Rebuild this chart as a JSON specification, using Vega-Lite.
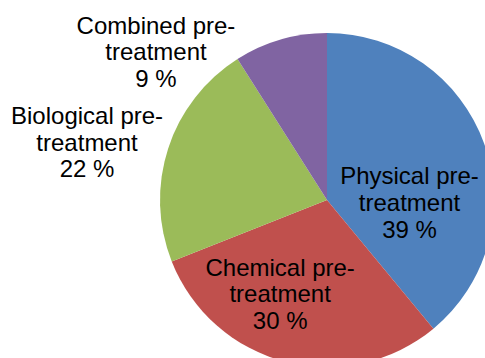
{
  "$schema": "https://vega.github.io/schema/vega-lite/v6.json",
  "width": 316,
  "height": 316,
  "autosize": "none",
  "padding": {"left": 169, "top": 42, "right": 0, "bottom": 0},
  "background": "white",
  "view": {"stroke": null},
  "data": {
    "values": [
      {"cat": "Physical", "order": 1, "value": 39, "label": "Physical pre-\ntreatment\n39 %"},
      {"cat": "Chemical", "order": 2, "value": 30, "label": "Chemical pre-\ntreatment\n30 %"},
      {"cat": "Biological", "order": 3, "value": 22, "label": "Biological pre-\ntreatment\n22 %"},
      {"cat": "Combined", "order": 4, "value": 9, "label": "Combined pre-\ntreatment\n9 %"}
    ]
  },
  "encoding": {
    "theta": {"field": "value", "type": "quantitative", "stack": true},
    "order": {"field": "order", "type": "quantitative"},
    "detail": {"field": "cat", "type": "nominal"}
  },
  "layer": [
    {
      "mark": {"type": "arc", "outerRadius": 167, "strokeWidth": 0},
      "encoding": {
        "color": {
          "field": "cat",
          "type": "nominal",
          "scale": {
            "domain": ["Physical", "Chemical", "Biological", "Combined"],
            "range": ["#4F81BD", "#C0504D", "#9BBB59", "#8064A2"]
          },
          "legend": null
        }
      }
    },
    {
      "mark": {"type": "text", "radius": 76, "dx": 11, "dy": 3, "fontSize": 24, "font": "Liberation Sans", "lineBreak": "\n", "lineHeight": 26.7, "align": "center", "baseline": "middle", "fill": "black"},
      "encoding": {"text": {"condition": {"test": "datum.cat === 'Physical'", "field": "label"}, "value": ""}}
    },
    {
      "mark": {"type": "text", "radius": 104, "dx": -21, "dy": -32, "fontSize": 24, "font": "Liberation Sans", "lineBreak": "\n", "lineHeight": 26.7, "align": "center", "baseline": "middle", "fill": "black"},
      "encoding": {"text": {"condition": {"test": "datum.cat === 'Chemical'", "field": "label"}, "value": ""}}
    },
    {
      "mark": {"type": "text", "radius": 246, "dx": -6, "dy": -7, "fontSize": 24, "font": "Liberation Sans", "lineBreak": "\n", "lineHeight": 26.7, "align": "center", "baseline": "middle", "fill": "black"},
      "encoding": {"text": {"condition": {"test": "datum.cat === 'Biological'", "field": "label"}, "value": ""}}
    },
    {
      "mark": {"type": "text", "radius": 190, "dx": -118, "dy": 9, "fontSize": 24, "font": "Liberation Sans", "lineBreak": "\n", "lineHeight": 26.7, "align": "center", "baseline": "middle", "fill": "black"},
      "encoding": {"text": {"condition": {"test": "datum.cat === 'Combined'", "field": "label"}, "value": ""}}
    }
  ]
}
